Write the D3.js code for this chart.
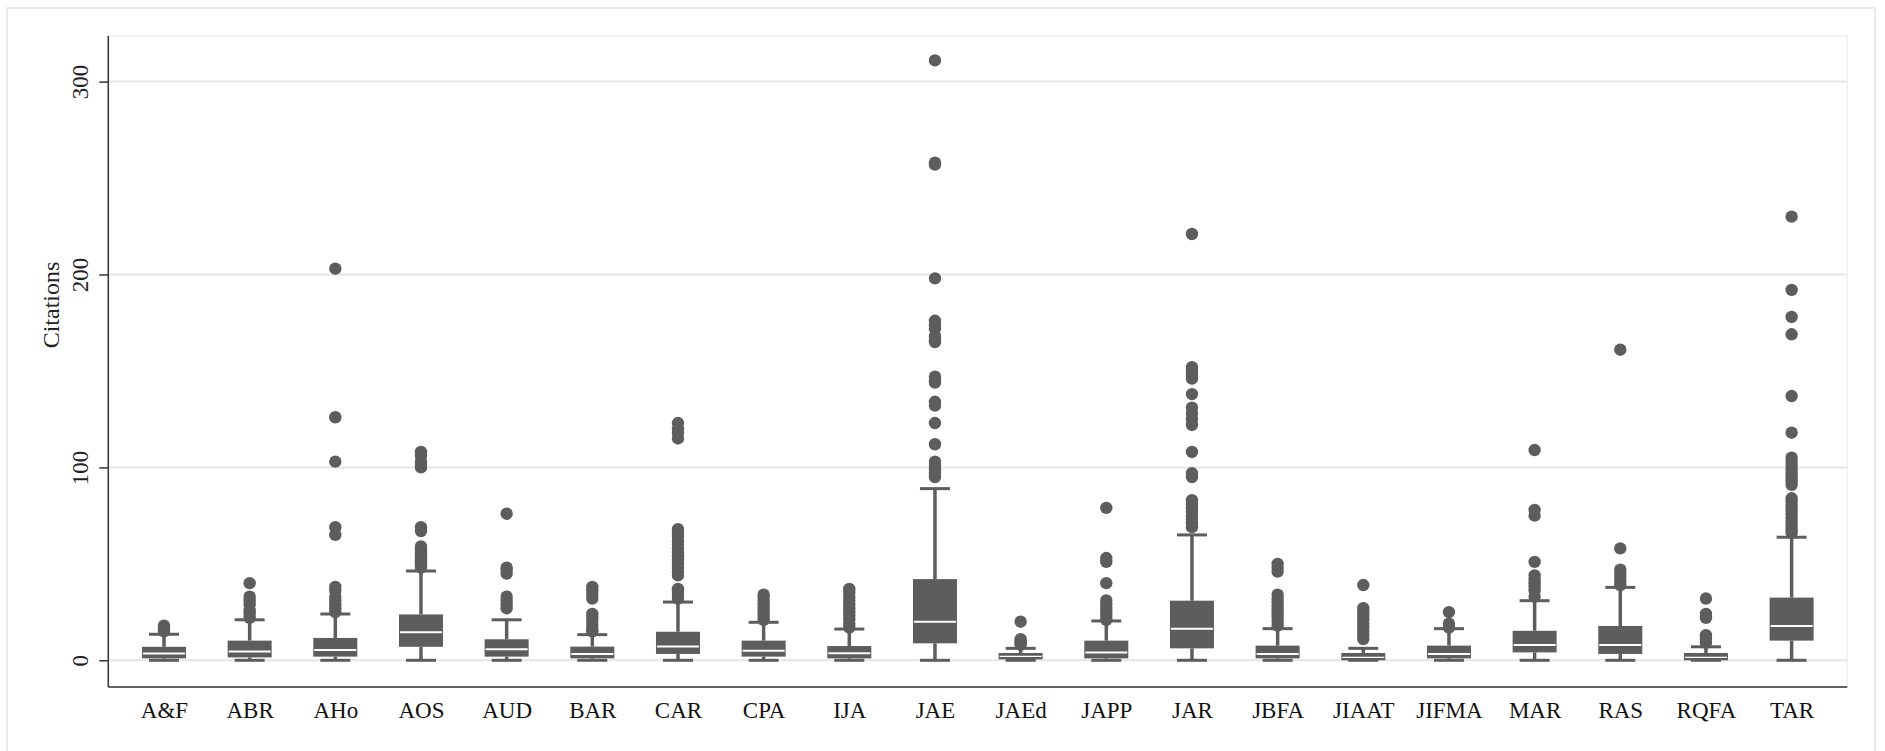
<!DOCTYPE html>
<html>
<head>
<meta charset="utf-8">
<script src="https://cdn.jsdelivr.net/npm/d3@7"></script>
<style>
  html, body { margin: 0; padding: 0; background: #fff; }
  #chart { width: 1885px; height: 751px; }
</style>
</head>
<body>
<div id="chart"></div>
<script>
// journals
const categories = ['A&F', 'ABR', 'AHo', 'AOS', 'AUD', 'BAR', 'CAR', 'CPA', 'IJA', 'JAE',
  'JAEd', 'JAPP', 'JAR', 'JBFA', 'JIAAT', 'JIFMA', 'MAR', 'RAS', 'RQFA', 'TAR'];

// box statistics
const lowerWhisker = [0, 0, 0, 0, 0, 0, 0, 0, 0, 0, 0, 0, 0, 0, 0, 0, 0, 0, 0, 0];
const q1 = [1, 1.5, 1.9, 7, 1.9, 1, 3.3, 1.9, 1, 8.8, 0.5, 1, 6.2, 1, 0, 1, 4.1, 3.3, 0, 10.2];
const median = [3.5, 4.5, 5.3, 14.5, 5.7, 3.3, 7.1, 5, 3.6, 20, 2, 4.1, 16.4, 3.3, 1.5, 3.3, 7.9, 7.9, 1.5, 17.8];
const q3 = [7, 10.2, 11.6, 23.8, 10.9, 7.1, 14.8, 10.2, 7.4, 42.1, 3.8, 10.2, 30.9, 7.6, 3.8, 7.6, 15.3, 17.8, 3.8, 32.5];
const upperWhisker = [13.5, 21, 24, 46.3, 21, 13.3, 30.2, 19.7, 16.2, 89, 6.2, 20.4, 65, 16.4, 6.2, 16.4, 30.9, 37.8, 7, 63.8];

const outliers = [
  [15, 16, 17, 18],
  [22, 24, 26, 29, 31, 33, 40],
  [25, 27, 29, 31, 33, 36, 38, 65, 69, 103, 126, 203],
  [48, 49, 50, 51, 52, 53, 54, 55, 56, 57, 58, 59, 67, 69, 100, 101, 103, 106, 108],
  [27, 29, 31, 33, 45, 47, 48, 76],
  [15, 16, 18, 20, 22, 24, 32, 34, 36, 38],
  [32, 34, 36, 37, 44, 46, 48, 50, 52, 54, 56, 58, 60, 62, 64, 66, 68, 115, 118, 120, 123],
  [21, 23, 25, 27, 29, 31, 33, 34],
  [17, 19, 21, 23, 25, 27, 29, 31, 33, 35, 37],
  [95, 97, 99, 101, 103, 112, 123, 132, 134, 144, 145, 147, 165, 166, 168, 172, 174, 176, 198, 257, 258, 311],
  [8, 9, 10, 11, 20],
  [21, 23, 25, 27, 29, 31, 40, 51, 53, 79],
  [69, 71, 73, 75, 77, 79, 81, 83, 95, 97, 108, 122, 125, 128, 131, 138, 146, 148, 150, 152, 221],
  [18, 20, 22, 24, 26, 28, 30, 32, 34, 46, 48, 50],
  [11, 13, 15, 17, 19, 21, 23, 25, 27, 39],
  [17, 19, 25],
  [33, 36, 38, 40, 42, 44, 51, 75, 78, 109],
  [39, 41, 43, 45, 47, 58, 161],
  [9, 11, 13, 22, 24, 32],
  [66, 68, 70, 72, 74, 76, 78, 80, 82, 84, 91, 93, 95, 97, 99, 101, 103, 105, 118, 137, 169, 178, 192, 230]
];

const yTicks = [0, 100, 200, 300];
const yTitle = 'Citations';

const width = 1885;
const height = 751;
const plot = { left: 108.3, right: 1847.3, top: 36, bottom: 687 };
const boxColor = '#5d5d5d';
const font = '"Liberation Serif", "Times New Roman", serif';

const data = categories.map((c, i) => ({
  label: c,
  lw: lowerWhisker[i], q1: q1[i], med: median[i], q3: q3[i], uw: upperWhisker[i],
  out: outliers[i]
}));

const svg = d3.select('#chart')
  .append('svg')
  .attr('width', width)
  .attr('height', height);

// outer frame (bottom edge runs off the canvas)
svg.append('rect')
  .attr('x', 7).attr('y', 8)
  .attr('width', 1868).attr('height', 760)
  .attr('fill', '#fff')
  .attr('stroke', '#e9e9e9')
  .attr('stroke-width', 2);

// plot region border
svg.append('rect')
  .attr('x', plot.left).attr('y', plot.top)
  .attr('width', plot.right - plot.left).attr('height', plot.bottom - plot.top)
  .attr('fill', '#fff')
  .attr('stroke', '#efefef')
  .attr('stroke-width', 1.5);

const x = d3.scalePoint()
  .domain(categories)
  .range([plot.left, plot.right])
  .padding(0.65);

const y = d3.scaleLinear()
  .domain([0, 300])
  .range([660.3, 81.6]);

// gridlines
svg.append('g')
  .selectAll('line')
  .data(yTicks)
  .join('line')
  .attr('x1', plot.left).attr('x2', plot.right)
  .attr('y1', d => y(d)).attr('y2', d => y(d))
  .attr('stroke', '#e6e6e6')
  .attr('stroke-width', 2);

// y axis
const yAxis = svg.append('g')
  .attr('transform', `translate(${plot.left},0)`)
  .call(d3.axisLeft(y).tickValues(yTicks).tickSize(9).tickSizeOuter(0));
yAxis.select('.domain').remove();
yAxis.selectAll('.tick line').attr('stroke', '#333').attr('stroke-width', 1.5);
yAxis.selectAll('.tick text')
  .attr('transform', 'rotate(-90)')
  .attr('x', 0)
  .attr('y', -28)
  .attr('dy', '0.35em')
  .attr('text-anchor', 'middle')
  .style('font-family', font)
  .style('font-size', '23px')
  .attr('fill', '#222');

// x axis
const xAxis = svg.append('g')
  .attr('transform', `translate(0,${plot.bottom})`)
  .call(d3.axisBottom(x).tickSize(0).tickSizeOuter(0));
xAxis.select('.domain').remove();
xAxis.selectAll('.tick text')
  .attr('y', 31)
  .attr('dy', 0)
  .style('font-family', font)
  .style('font-size', '23px')
  .attr('fill', '#111');

// axis lines
svg.append('line')
  .attr('x1', plot.left).attr('x2', plot.left)
  .attr('y1', plot.top).attr('y2', plot.bottom)
  .attr('stroke', '#333').attr('stroke-width', 1.5);
svg.append('line')
  .attr('x1', plot.left).attr('x2', plot.right)
  .attr('y1', plot.bottom).attr('y2', plot.bottom)
  .attr('stroke', '#333').attr('stroke-width', 1.5);

// y title
svg.append('text')
  .attr('transform', 'translate(51,305) rotate(-90)')
  .attr('text-anchor', 'middle')
  .attr('dy', '0.35em')
  .style('font-family', font)
  .style('font-size', '24px')
  .attr('fill', '#222')
  .text(yTitle);

// boxes
const boxW = 44;
const capW = 30;
const g = svg.append('g');

const boxes = g.selectAll('.box')
  .data(data)
  .join('g')
  .attr('class', 'box')
  .attr('transform', d => `translate(${x(d.label)},0)`);

boxes.append('line')
  .attr('y1', d => y(d.q3)).attr('y2', d => y(d.uw))
  .attr('stroke', boxColor).attr('stroke-width', 3.5);
boxes.append('line')
  .attr('y1', d => y(d.q1)).attr('y2', d => y(d.lw))
  .attr('stroke', boxColor).attr('stroke-width', 3.5);
boxes.append('line')
  .attr('x1', -capW / 2).attr('x2', capW / 2)
  .attr('y1', d => y(d.uw)).attr('y2', d => y(d.uw))
  .attr('stroke', boxColor).attr('stroke-width', 3);

// lower cap under the box
boxes.append('line')
  .attr('x1', -capW / 2).attr('x2', capW / 2)
  .attr('y1', d => y(d.lw)).attr('y2', d => y(d.lw))
  .attr('stroke', boxColor).attr('stroke-width', 3);

boxes.append('rect')
  .attr('x', -boxW / 2)
  .attr('width', boxW)
  .attr('y', d => y(d.q3))
  .attr('height', d => Math.max(3, y(d.q1) - y(d.q3)))
  .attr('fill', boxColor);

boxes.append('line')
  .attr('x1', -boxW / 2 + 1).attr('x2', boxW / 2 - 1)
  .attr('y1', d => y(d.med)).attr('y2', d => y(d.med))
  .attr('stroke', '#fff').attr('stroke-width', d => (d.q3 - d.q1 < 5 ? 1.2 : 2));

boxes.selectAll('circle')
  .data(d => d.out)
  .join('circle')
  .attr('cx', 0)
  .attr('cy', d => y(d))
  .attr('r', 6.2)
  .attr('fill', boxColor);
</script>
</body>
</html>
